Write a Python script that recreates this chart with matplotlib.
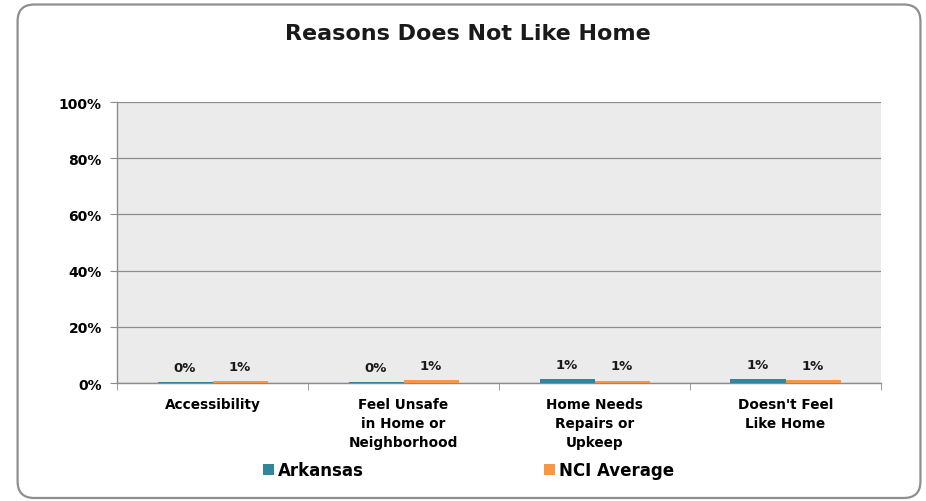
import numpy as np
import matplotlib.pyplot as plt
from matplotlib.patches import FancyBboxPatch
from matplotlib.ticker import FixedLocator, NullFormatter

categories = ['Accessibility', 'Feel Unsafe\nin Home or\nNeighborhood',
              'Home Needs\nRepairs or\nUpkeep', "Doesn't Feel\nLike Home"]
arkansas = [0.3, 0.2, 1.4, 1.3]
nci_avg = [0.6, 1.0, 0.8, 1.1]
series_names = ['Arkansas', 'NCI Average']
colors = ['#31859C', '#F79646']

plt.rcParams.update({
    "font.family": ["DejaVu Sans"],
    "font.weight": "bold",
})

fig = plt.figure(figsize=(9.26, 5.02), dpi=100)
fig.patch.set_facecolor('white')

# rounded frame around the whole chart
frame = FancyBboxPatch((0.019, 0.006), 0.975, 0.983,
                       boxstyle="round,pad=0,rounding_size=0.018",
                       transform=fig.transFigure, facecolor='none',
                       edgecolor='#8f8f8f', lw=1.6, zorder=5,
                       mutation_aspect=926 / 502)
fig.patches.append(frame)

ax = fig.add_axes([0.1264, 0.235, 0.825, 0.5598])
ax.set_facecolor('#ebebeb')

x = np.arange(len(categories))
w = 0.288
b1 = ax.bar(x - w / 2, arkansas, w, color=colors[0], label=series_names[0], zorder=3)
b2 = ax.bar(x + w / 2, nci_avg, w, color=colors[1], label=series_names[1], zorder=3)

for bars, vals in [(b1, arkansas), (b2, nci_avg)]:
    for rect, v in zip(bars, vals):
        ax.annotate(f"{v:.0f}%", (rect.get_x() + rect.get_width() / 2, v),
                    xytext=(0, 6), textcoords='offset points',
                    ha='center', va='bottom', fontsize=9.5, fontweight='bold',
                    color='#1a1a1a')

ax.set_xlim(-0.5, len(categories) - 0.5)
ax.set_ylim(0, 100)
ax.set_yticks(range(0, 101, 20))
ax.set_yticklabels([f"{v}%" for v in range(0, 101, 20)], fontsize=10, fontweight='bold')
ax.yaxis.grid(True, color='#8c8c8c', lw=0.9, zorder=1)
ax.set_axisbelow(True)

ax.set_xticks(x)
ax.set_xticklabels(categories, fontsize=9.8, fontweight='bold', linespacing=1.45, va='top')
ax.tick_params(axis='x', length=0, pad=10)
ax.xaxis.set_minor_locator(FixedLocator(np.arange(-0.5, len(categories), 1.0)))
ax.xaxis.set_minor_formatter(NullFormatter())
ax.tick_params(axis='x', which='minor', length=5, color='#8c8c8c', direction='out')
ax.tick_params(axis='y', length=5, color='#8c8c8c', direction='out', pad=6)

for s in ['top', 'right']:
    ax.spines[s].set_visible(False)
for s in ['left', 'bottom']:
    ax.spines[s].set_color('#8c8c8c')
    ax.spines[s].set_linewidth(1.0)

fig.text(0.505, 0.932, 'Reasons Does Not Like Home', ha='center', va='center',
         fontsize=16, fontweight='bold', color='#1a1a1a')

fig.legend(handles=[b1, b2], labels=series_names, loc='center',
           bbox_to_anchor=(0.506, 0.061), ncol=2, frameon=False,
           fontsize=12, handlelength=0.65, handleheight=0.65, handletextpad=0.25,
           columnspacing=10.8)

fig.savefig('out.png', dpi=100)
